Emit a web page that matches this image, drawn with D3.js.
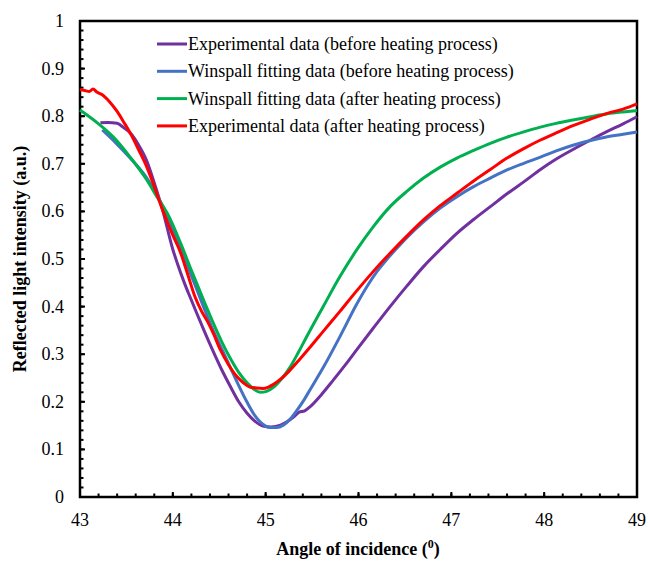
<!DOCTYPE html>
<html><head><meta charset="utf-8">
<script src="https://cdn.jsdelivr.net/npm/d3@7"></script>
<style>body{margin:0;background:#fff}svg{display:block}
text{font-family:"Liberation Serif","Times New Roman","DejaVu Serif",serif;}</style>
</head><body>
<svg id="c" width="648" height="561"></svg>
<script>
const xTicks = [43,44,45,46,47,48,49];
const yTicks = [0,0.1,0.2,0.3,0.4,0.5,0.6,0.7,0.8,0.9,1];
const seriesNames = ["Experimental data (before heating process)","Winspall fitting data (before heating process)","Winspall fitting data (after heating process)","Experimental data (after heating process)"];
const seriesColors = ["#7030A0","#4472C4","#00B050","#FF0000"];

const expBefore = [[43.22,0.786],[43.3,0.787],[43.4,0.785],[43.47,0.776],[43.54,0.765],[43.63,0.74],[43.72,0.706],[43.8,0.66],[43.89,0.603],[44.0,0.52],[44.05,0.49],[44.12,0.452],[44.19,0.418],[44.26,0.385],[44.34,0.348],[44.43,0.308],[44.52,0.27],[44.62,0.232],[44.71,0.2],[44.8,0.176],[44.88,0.16],[44.97,0.149],[45.06,0.147],[45.16,0.151],[45.23,0.158],[45.3,0.168],[45.36,0.178],[45.42,0.181],[45.48,0.19],[45.6,0.215],[45.73,0.246],[45.86,0.278],[45.98,0.309],[46.16,0.355],[46.34,0.4],[46.52,0.443],[46.7,0.484],[46.88,0.52],[47.06,0.554],[47.24,0.583],[47.42,0.61],[47.6,0.637],[47.78,0.662],[47.96,0.688],[48.13,0.71],[48.31,0.73],[48.5,0.75],[48.68,0.768],[48.85,0.784],[49.0,0.799]];
const fitBefore = [[43.24,0.771],[43.38,0.745],[43.54,0.712],[43.72,0.67],[43.89,0.612],[44.05,0.54],[44.2,0.465],[44.33,0.4],[44.43,0.352],[44.53,0.31],[44.62,0.272],[44.71,0.234],[44.8,0.199],[44.88,0.172],[44.94,0.158],[45.0,0.149],[45.05,0.146],[45.12,0.146],[45.19,0.151],[45.27,0.165],[45.34,0.183],[45.41,0.203],[45.48,0.226],[45.62,0.272],[45.8,0.337],[45.98,0.405],[46.1,0.445],[46.2,0.474],[46.3,0.498],[46.4,0.52],[46.52,0.545],[46.7,0.578],[46.88,0.607],[47.06,0.631],[47.24,0.652],[47.42,0.67],[47.6,0.687],[47.78,0.701],[47.96,0.714],[48.13,0.727],[48.31,0.739],[48.5,0.749],[48.68,0.757],[48.85,0.762],[49.0,0.767]];
const fitAfter = [[43.0,0.813],[43.18,0.787],[43.36,0.756],[43.54,0.714],[43.72,0.666],[43.84,0.627],[43.94,0.596],[44.08,0.535],[44.2,0.476],[44.33,0.414],[44.43,0.368],[44.53,0.325],[44.62,0.291],[44.71,0.262],[44.8,0.24],[44.87,0.227],[44.94,0.22],[45.01,0.222],[45.08,0.23],[45.17,0.248],[45.26,0.272],[45.35,0.303],[45.44,0.336],[45.62,0.4],[45.8,0.463],[45.98,0.519],[46.16,0.568],[46.34,0.61],[46.52,0.642],[46.7,0.67],[46.88,0.693],[47.06,0.712],[47.24,0.728],[47.42,0.743],[47.6,0.756],[47.78,0.767],[47.96,0.777],[48.13,0.785],[48.31,0.792],[48.5,0.799],[48.68,0.805],[48.85,0.809],[49.0,0.812]];
const expAfter = [[43.0,0.856],[43.05,0.854],[43.1,0.852],[43.14,0.857],[43.18,0.851],[43.24,0.845],[43.32,0.83],[43.4,0.81],[43.47,0.788],[43.54,0.765],[43.63,0.73],[43.72,0.693],[43.8,0.652],[43.89,0.603],[44.0,0.55],[44.08,0.515],[44.16,0.468],[44.24,0.42],[44.31,0.39],[44.37,0.37],[44.44,0.342],[44.51,0.31],[44.6,0.278],[44.69,0.253],[44.76,0.24],[44.83,0.231],[44.9,0.229],[44.97,0.228],[45.03,0.231],[45.08,0.236],[45.17,0.249],[45.26,0.266],[45.37,0.29],[45.48,0.315],[45.62,0.348],[45.8,0.39],[45.98,0.433],[46.16,0.474],[46.34,0.512],[46.52,0.548],[46.7,0.582],[46.88,0.612],[47.06,0.638],[47.24,0.664],[47.42,0.688],[47.6,0.712],[47.78,0.732],[47.96,0.75],[48.13,0.765],[48.31,0.78],[48.5,0.794],[48.68,0.806],[48.85,0.815],[49.0,0.826]];
const allSeries = [expBefore, fitBefore, fitAfter, expAfter];

const svg = d3.select("#c");
const L=80, R=637, T=21, B=497;
const x = d3.scaleLinear().domain([43,49]).range([L,R]);
const y = d3.scaleLinear().domain([0,1]).range([B,T]);

// frame
svg.append("rect").attr("x",L).attr("y",T).attr("width",R-L).attr("height",B-T)
  .attr("fill","none").attr("stroke","#000").attr("stroke-width",2.5);

// ticks (inward)
const xMinor = d3.range(43,49.001,0.2);
const yMinor = d3.range(0,1.001,0.02);
svg.append("g").selectAll("line").data(xMinor).join("line")
  .attr("x1",d=>x(d)).attr("x2",d=>x(d)).attr("y1",B).attr("y2",B-3.5)
  .attr("stroke","#000").attr("stroke-width",2);
svg.append("g").selectAll("line").data(xTicks).join("line")
  .attr("x1",d=>x(d)).attr("x2",d=>x(d)).attr("y1",B).attr("y2",B-5)
  .attr("stroke","#000").attr("stroke-width",2);
svg.append("g").selectAll("line").data(yMinor).join("line")
  .attr("x1",L).attr("x2",L+3.5).attr("y1",d=>y(d)).attr("y2",d=>y(d))
  .attr("stroke","#000").attr("stroke-width",2);
svg.append("g").selectAll("line").data(yTicks).join("line")
  .attr("x1",L).attr("x2",L+5).attr("y1",d=>y(d)).attr("y2",d=>y(d))
  .attr("stroke","#000").attr("stroke-width",2);

// tick labels
svg.append("g").selectAll("text").data(xTicks).join("text")
  .attr("x",d=>x(d)).attr("y",526).attr("text-anchor","middle")
  .attr("font-size",18).text(d=>d);
svg.append("g").selectAll("text").data(yTicks).join("text")
  .attr("x",64).attr("y",d=>y(d)+6).attr("text-anchor","end")
  .attr("font-size",18).text(d=>d);

// axis titles
const xt = svg.append("text").attr("x",358).attr("y",555).attr("text-anchor","middle")
  .attr("font-size",18).attr("font-weight","bold");
xt.append("tspan").text("Angle of incidence (");
xt.append("tspan").attr("font-size",12).attr("dy",-7).text("0");
xt.append("tspan").attr("dy",7).text(")");
svg.append("text").attr("transform","translate(26,259) rotate(-90)").attr("text-anchor","middle")
  .attr("font-size",18).attr("font-weight","bold")
  .text("Reflected light intensity (a.u.)");

// lines
const line = d3.line().x(d=>x(d[0])).y(d=>y(d[1])).curve(d3.curveMonotoneX);
svg.append("g").selectAll("path").data([0,1,2,3]).join("path")
  .attr("d",i=>line(allSeries[i])).attr("fill","none")
  .attr("stroke",i=>seriesColors[i]).attr("stroke-width",3)
  .attr("stroke-linejoin","round");

// legend
const lg = svg.append("g").selectAll("g").data(seriesNames).join("g")
  .attr("transform",(d,i)=>`translate(157,${44+i*27.3})`);
lg.append("line").attr("x1",0).attr("x2",30).attr("stroke",(d,i)=>seriesColors[i]).attr("stroke-width",3);
lg.append("text").attr("x",31).attr("y",6).attr("font-size",18).text(d=>d);
</script>
</body></html>
